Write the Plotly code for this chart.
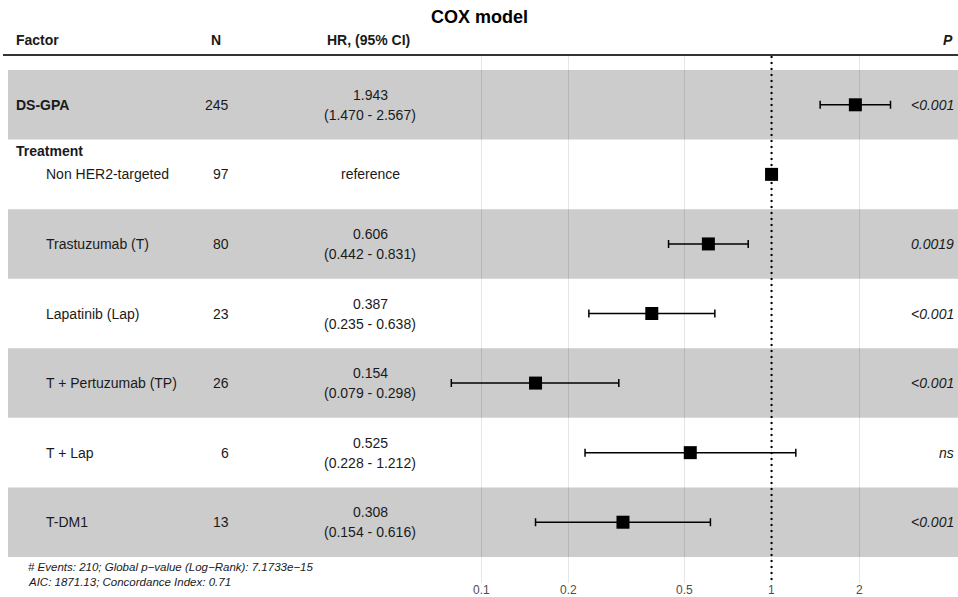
import math
import plotly.graph_objects as go

# Cox proportional hazards model results
factors = ["DS-GPA", "Non HER2-targeted", "Trastuzumab (T)", "Lapatinib (Lap)",
           "T + Pertuzumab (TP)", "T + Lap", "T-DM1"]
indented = [False, True, True, True, True, True, True]
n_values = [245, 97, 80, 23, 26, 6, 13]
hr = [1.943, 1.0, 0.606, 0.387, 0.154, 0.525, 0.308]
ci_low = [1.470, None, 0.442, 0.235, 0.079, 0.228, 0.154]
ci_high = [2.567, None, 0.831, 0.638, 0.298, 1.212, 0.616]
p_labels = ["<0.001", "", "0.0019", "<0.001", "<0.001", "ns", "<0.001"]
group_label = "Treatment"
group_row = 1
tick_vals = [0.1, 0.2, 0.5, 1, 2]
tick_text = ["0.1", "0.2", "0.5", "1", "2"]
footnote = ["# Events: 210; Global p\u2212value (Log\u2212Rank): 7.1733e\u221215",
            "AIC: 1871.13; Concordance Index: 0.71"]

W, H = 958, 597
FONT = "Liberation Sans, Arial, sans-serif"
rows = list(range(len(factors)))


def px(x):
    return x / W


def py(y):
    return 1 - y / H


# vertical extent of the forest panel (rows run top to bottom)
panel_top_px, panel_bot_px = 56, 583
row0_px, row_step_px = 104.8, 69.57
y_top = (panel_top_px - row0_px) / row_step_px
y_bot = (panel_bot_px - row0_px) / row_step_px

fig = go.Figure()

# reference line at HR = 1
fig.add_trace(go.Scatter(
    x=[1, 1], y=[y_top, y_bot], mode="lines",
    line=dict(color="black", width=2, dash="2px,4px"),
    hoverinfo="skip", showlegend=False,
))

err_plus = [(hi - h) if hi is not None else 0 for h, hi in zip(hr, ci_high)]
err_minus = [(h - lo) if lo is not None else 0 for h, lo in zip(hr, ci_low)]

fig.add_trace(go.Scatter(
    x=hr, y=rows, mode="markers",
    marker=dict(symbol="square", size=13, color="black"),
    error_x=dict(type="data", symmetric=False, array=err_plus, arrayminus=err_minus,
                 color="black", thickness=1.5, width=4),
    hoverinfo="skip", showlegend=False,
))

shapes = []
# alternating row bands
for i in rows:
    if i % 2 == 0:
        shapes.append(dict(type="rect", xref="paper", yref="y",
                           x0=px(8), x1=1, y0=i - 0.5, y1=i + 0.5,
                           fillcolor="#cccccc", line=dict(width=0), layer="below"))
# rule under the column headers
shapes.append(dict(type="line", xref="paper", yref="paper",
                   x0=px(3), x1=1, y0=py(55), y1=py(55),
                   line=dict(color="#333333", width=2)))

txt = dict(family=FONT, size=14, color="#1a1a1a")
ann = []


def note(text, x, y, xanchor="center", yanchor="middle", xref="paper", yref="paper",
         font=txt, yshift=0):
    ann.append(dict(text=text, x=x, y=y, xanchor=xanchor, yanchor=yanchor,
                    xref=xref, yref=yref, showarrow=False, font=font, yshift=yshift))


# title and column headers
note("<b>COX model</b>", px(479), py(17), font=dict(family=FONT, size=18, color="black"))
note("<b>Factor</b>", px(14), py(40), xanchor="left")
note("<b>N</b>", px(216), py(40))
note("<b>HR, (95% CI)</b>", px(368), py(40))
note("<b><i>P</i></b>", px(955), py(40), xanchor="right")

# group label
note("<b>%s</b>" % group_label, px(14), group_row, xanchor="left", yref="y", yshift=23)

for i, f in enumerate(factors):
    label = f if indented[i] else "<b>%s</b>" % f
    note(label, px(44 if indented[i] else 14), i, xanchor="left", yref="y")
    note(str(n_values[i]), px(231), i, xanchor="right", yref="y")
    if ci_low[i] is None:
        note("reference", px(370), i, yref="y")
    else:
        note("%.3f" % hr[i], px(370), i, yref="y", yshift=10)
        note("(%.3f - %.3f)" % (ci_low[i], ci_high[i]), px(370), i, yref="y", yshift=-10)
    if p_labels[i]:
        note("<i>%s</i>" % p_labels[i], px(956), i, xanchor="right", yref="y")

for k, line in enumerate(footnote):
    note("<i>%s</i>" % line, px(26), py(567 + 15 * k), xanchor="left",
         font=dict(family=FONT, size=11.5, color="#1a1a1a"))

# axis tick labels below the panel (log axis: annotation x is in log10 units)
for v, t in zip(tick_vals, tick_text):
    note(t, math.log10(v), py(581), xref="x", yanchor="top",
         font=dict(family=FONT, size=12, color="#4d4d4d"))

fig.update_layout(
    width=W, height=H,
    margin=dict(l=0, r=0, t=0, b=0),
    paper_bgcolor="white", plot_bgcolor="rgba(0,0,0,0)",
    shapes=shapes, annotations=ann,
    xaxis=dict(type="log", range=[-2.656, 0.6418], domain=[0, 1],
               tickvals=tick_vals, showticklabels=False,
               showgrid=True, gridcolor="rgba(0,0,0,0.1)", gridwidth=1,
               ticks="", showline=False, zeroline=False),
    yaxis=dict(range=[y_bot, y_top], domain=[py(panel_bot_px), py(panel_top_px)],
               showgrid=False, showticklabels=False, zeroline=False, showline=False),
    font=dict(family=FONT),
)

fig.write_html("out.html")
